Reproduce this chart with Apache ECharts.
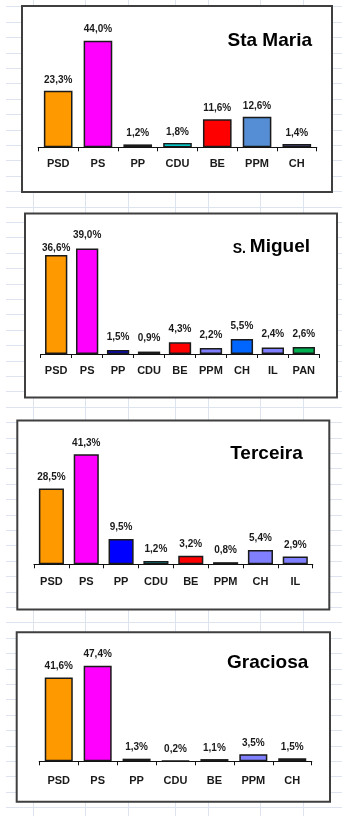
<!DOCTYPE html>
<html>
<head>
<meta charset="utf-8">
<script src="https://cdn.jsdelivr.net/npm/echarts@6/dist/echarts.min.js"></script>
<style>
  html, body { margin: 0; padding: 0; background: #fff; }
  #bg {
    position: absolute; left: 6px; top: 0; width: 336px; height: 816px;
    background-image:
      repeating-linear-gradient(to bottom, transparent 0px, transparent 14.4px, #dde4ef 14.4px, #dde4ef 15.4px),
      linear-gradient(to right,
        transparent 27px, #dde4ef 27px, #dde4ef 28px, transparent 28px,
        transparent 79px, #dde4ef 79px, #dde4ef 80px, transparent 80px,
        transparent 122px, #dde4ef 122px, #dde4ef 123px, transparent 123px,
        transparent 169px, #dde4ef 169px, #dde4ef 170px, transparent 170px,
        transparent 202px, #dde4ef 202px, #dde4ef 203px, transparent 203px,
        transparent 254px, #dde4ef 254px, #dde4ef 255px, transparent 255px,
        transparent 297px, #dde4ef 297px, #dde4ef 298px, transparent 298px);
    background-position: 0 -8px, 0 0;
  }
  #chart { position: absolute; left: 0; top: 0; width: 355px; height: 816px; }
</style>
</head>
<body>
<div id="bg"></div>
<div id="chart"></div>
<script>
// ---- Data ----
const catsStaMaria = ['PSD', 'PS', 'PP', 'CDU', 'BE', 'PPM', 'CH'];
const valsStaMaria = [23.3, 44.0, 1.2, 1.8, 11.6, 12.6, 1.4];

const catsSMiguel = ['PSD', 'PS', 'PP', 'CDU', 'BE', 'PPM', 'CH', 'IL', 'PAN'];
const valsSMiguel = [36.6, 39.0, 1.5, 0.9, 4.3, 2.2, 5.5, 2.4, 2.6];

const catsTerceira = ['PSD', 'PS', 'PP', 'CDU', 'BE', 'PPM', 'CH', 'IL'];
const valsTerceira = [28.5, 41.3, 9.5, 1.2, 3.2, 0.8, 5.4, 2.9];

const catsGraciosa = ['PSD', 'PS', 'PP', 'CDU', 'BE', 'PPM', 'CH'];
const valsGraciosa = [41.6, 47.4, 1.3, 0.2, 1.1, 3.5, 1.5];

// ---- Colours ----
const colStaMaria = ['#FF9900', '#FF00FF', '#0000CC', '#00FFFF', '#FF0000', '#558ED5', '#8080FF'];
const colSMiguel = ['#FF9900', '#FF00FF', '#0000FF', '#009999', '#FF0000', '#8080FF', '#0066FF', '#8080FF', '#00B050'];
const colTerceira = ['#FF9900', '#FF00FF', '#0000FF', '#00FFFF', '#FF0000', '#8080FF', '#8080FF', '#8080FF'];
const colGraciosa = ['#FF9900', '#FF00FF', '#0000FF', '#00FFFF', '#CC0000', '#8080FF', '#8080FF'];

const FONT = '"Liberation Sans", Arial, Helvetica, sans-serif';

// ---- Layout ----
const panels = [
  { cats: catsStaMaria, vals: valsStaMaria, colors: colStaMaria, title: 'Sta Maria',
    box: [22, 6, 310, 186], grid: { left: 38.3, top: 26.2, width: 278.4, height: 121.1 }, max: 50,
    labelMargin: 11, labelDist: 6, titleRight: 43, titleTop: 30.5 },
  { cats: catsSMiguel, vals: valsSMiguel, colors: colSMiguel, title: '{s|S. }{b|Miguel}',
    box: [25, 213.5, 312, 184], grid: { left: 40.7, top: 245.7, width: 278.6, height: 108.3 }, max: 40,
    labelMargin: 11, labelDist: 8, nudge: { 0: 6 }, titleRight: 45, titleTop: 236 },
  { cats: catsTerceira, vals: valsTerceira, colors: colTerceira, title: 'Terceira',
    box: [17.3, 420.5, 312, 189], grid: { left: 34, top: 444.5, width: 278.7, height: 119.8 }, max: 45,
    labelMargin: 12, labelDist: 6.5, titleRight: 52.3, titleTop: 443.5 },
  { cats: catsGraciosa, vals: valsGraciosa, colors: colGraciosa, title: 'Graciosa',
    box: [16.7, 632.3, 313.3, 169.4], grid: { left: 39.3, top: 640.3, width: 272.4, height: 121 }, max: 60,
    labelMargin: 14, labelDist: 6, titleRight: 46.7, titleTop: 652.5 }
];

const fmt = v => v.toFixed(1).replace('.', ',') + '%';

const option = {
  animation: false,
  backgroundColor: 'transparent',
  textStyle: { fontFamily: FONT },
  title: [], grid: [], xAxis: [], yAxis: [], series: [],
  graphic: []
};

panels.forEach((p, i) => {
  option.graphic.push({
    type: 'rect', z: -1,
    shape: { x: p.box[0], y: p.box[1], width: p.box[2], height: p.box[3] },
    style: { fill: '#ffffff', stroke: '#3f3f3f', lineWidth: 2 }
  });
  option.title.push({
    text: p.title, right: p.titleRight, top: p.titleTop, padding: 0,
    textStyle: {
      fontFamily: FONT, fontSize: 19, fontWeight: 'bold', color: '#000', lineHeight: 20,
      rich: {
        s: { fontFamily: FONT, fontSize: 14, fontWeight: 'bold', color: '#000', lineHeight: 20, verticalAlign: 'bottom' },
        b: { fontFamily: FONT, fontSize: 19, fontWeight: 'bold', color: '#000', lineHeight: 20, verticalAlign: 'bottom' }
      }
    }
  });
  option.grid.push(Object.assign({ containLabel: false }, p.grid));
  option.xAxis.push({
    type: 'category', gridIndex: i, data: p.cats,
    axisLine: { lineStyle: { color: '#111', width: 1.2 } },
    axisTick: { show: true, length: 4, lineStyle: { color: '#111' } },
    axisLabel: { margin: p.labelMargin, fontFamily: FONT, fontSize: 11, fontWeight: 'bold', color: '#1a1a1a', interval: 0 },
    splitLine: { show: false }
  });
  option.yAxis.push({
    type: 'value', gridIndex: i, min: 0, max: p.max, show: false, splitLine: { show: false }
  });
  option.series.push({
    type: 'bar', xAxisIndex: i, yAxisIndex: i, barWidth: '72%',
    data: p.vals.map((v, j) => {
      const item = { value: v, itemStyle: { color: p.colors[j] } };
      if (p.nudge && p.nudge[j] !== undefined) item.label = { offset: [0, p.nudge[j]] };
      return item;
    }),
    itemStyle: { borderColor: '#1a1a1a', borderWidth: 1.5 },
    label: {
      show: true, position: 'top', distance: p.labelDist,
      formatter: params => fmt(params.value),
      fontFamily: FONT, fontSize: 10, fontWeight: 'bold', color: '#1a1a1a'
    }
  });
});

const chart = echarts.init(document.getElementById('chart'), null, { renderer: 'canvas' });
chart.setOption(option);
</script>
</body>
</html>
